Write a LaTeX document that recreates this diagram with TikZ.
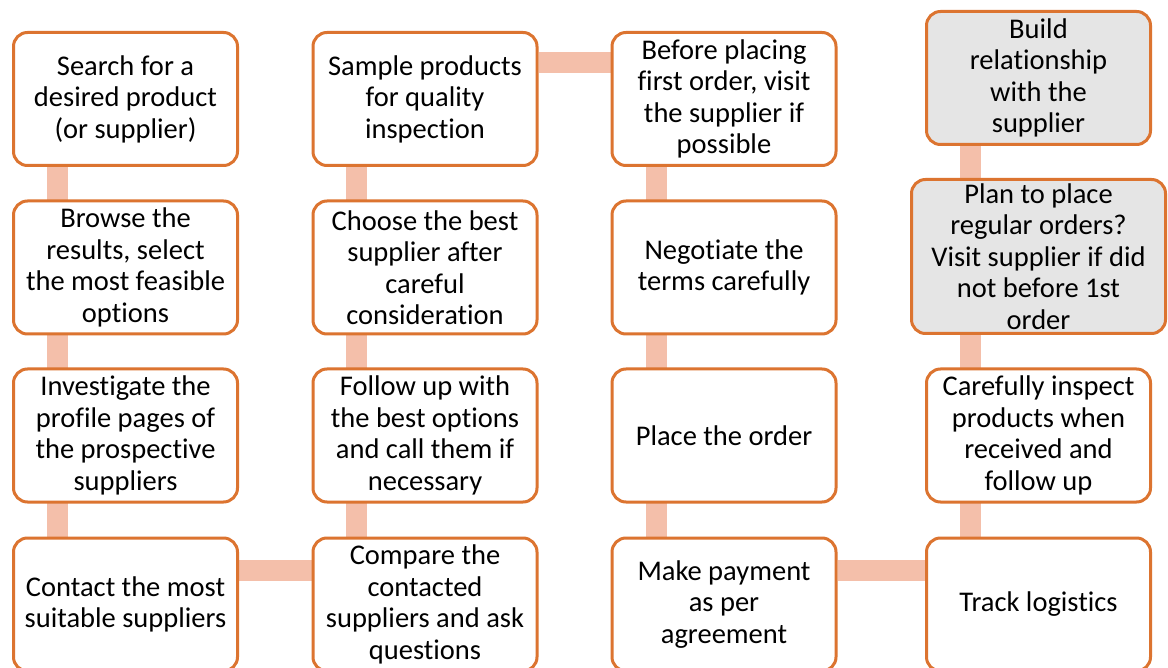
\documentclass[tikz,border=0pt]{standalone}
\usepackage{fontspec}
\setmainfont{Carlito}[Ligatures=NoCommon]
\usetikzlibrary{backgrounds}
\definecolor{boxorange}{HTML}{DC7430}
\definecolor{connpeach}{HTML}{F4BFAA}
\definecolor{boxgray}{HTML}{E5E5E5}
\tikzset{
  stepbox/.style={draw=boxorange, line width=3pt, rounded corners=14pt, fill=white,
    minimum width=224pt, minimum height=133pt, align=center, inner sep=0pt,
    text=black, font=\fontsize{28.5pt}{31.5pt}\selectfont},
  graybox/.style={stepbox, fill=boxgray},
  conn/.style={draw=connpeach, line width=21pt}
}
\begin{document}
\begin{tikzpicture}[x=1pt,y=-1pt]
\useasboundingbox (0,0) rectangle (1168,668);
\clip (0,0) rectangle (1168,668);
% column 1
\node[stepbox] (a1) at (125.5,99) {Search for a\\desired product\\(or supplier)};
\node[stepbox] (a2) at (125.5,267.5) {Browse the\\results, select\\the most feasible\\options};
\node[stepbox] (a3) at (125.5,435.5) {Investigate the\\profile pages of\\the prospective\\suppliers};
\node[stepbox] (a4) at (125.5,604.5) {Contact the most\\suitable suppliers};
% column 2
\node[stepbox] (b1) at (425,99) {Sample products\\for quality\\inspection};
\node[stepbox] (b2) at (425,267.5) {Choose the best\\supplier after\\careful\\consideration};
\node[stepbox] (b3) at (425,435.5) {Follow up with\\the best options\\and call them if\\necessary};
\node[stepbox] (b4) at (425,604.5) {Compare the\\contacted\\suppliers and ask\\questions};
% column 3
\node[stepbox] (c1) at (724,99) {Before placing\\first order, visit\\the supplier if\\possible};
\node[stepbox] (c2) at (724,267.5) {Negotiate the\\terms carefully};
\node[stepbox] (c3) at (724,435.5) {Place the order};
\node[stepbox] (c4) at (724,604.5) {Make payment\\as per\\agreement};
% column 4
\node[graybox] (d1) at (1038.5,78) {Build\\relationship\\with the\\supplier};
\node[graybox, minimum width=254pt, minimum height=154pt] (d2) at (1038.5,256.5) {Plan to place\\regular orders?\\Visit supplier if did\\not before 1st\\order};
\node[stepbox] (d3) at (1038.5,435.5) {Carefully inspect\\products when\\received and\\follow up};
\node[stepbox] (d4) at (1038.5,604.5) {Track logistics};
\begin{scope}[on background layer]
  \fill[white] (0,0) rectangle (1168,668);
  \draw[conn] ([xshift=45pt]a1.south west) -- ([xshift=45pt]a4.north west);
  \draw[conn] ([xshift=45pt]b1.south west) -- ([xshift=45pt]b4.north west);
  \draw[conn] ([xshift=46pt]c1.south west) -- ([xshift=46pt]c4.north west);
  \draw[conn] ([xshift=45.5pt]d1.south west) -- ([xshift=45.5pt]d4.north west);
  \draw[conn] ([yshift=-34pt]a4.north east) -- ([yshift=-34pt]b4.north west);
  \draw[conn] ([yshift=-31.5pt]b1.north east) -- ([yshift=-31.5pt]c1.north west);
  \draw[conn] ([yshift=-34pt]c4.north east) -- ([yshift=-34pt]d4.north west);
\end{scope}
\end{tikzpicture}
\end{document}
